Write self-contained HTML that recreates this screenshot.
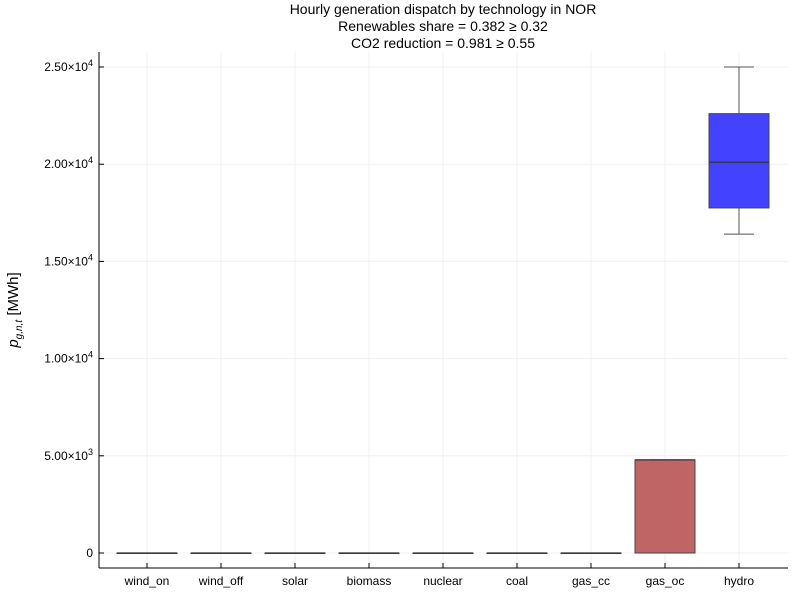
<!DOCTYPE html>
<html><head><meta charset="utf-8"><style>
body{margin:0;background:#fff;font-family:"Liberation Sans","DejaVu Sans",sans-serif;}
svg text{font-family:"Liberation Sans","DejaVu Sans",sans-serif;}
</style></head><body>
<svg id="chart" width="800" height="600" xmlns="http://www.w3.org/2000/svg">
<g id="title" font-size="14" text-anchor="middle" fill="#000">
<text x="443" y="14">Hourly generation dispatch by technology in NOR</text>
<text x="443" y="31">Renewables share = 0.382 ≥ 0.32</text>
<text x="443" y="48">CO2 reduction = 0.981 ≥ 0.55</text>
</g>
<g id="grid"></g>
<g id="boxes"></g>
<g id="axes"></g>
<text transform="translate(18,310) rotate(-90)" text-anchor="middle" font-size="15" font-family="Liberation Serif,serif" font-style="italic">p<tspan font-size="10" dy="4">g,n,t</tspan><tspan font-style="normal" dy="-4"> [MWh]</tspan></text>
</svg>
<script>
const categories=["wind_on","wind_off","solar","biomass","nuclear","coal","gas_cc","gas_oc","hydro"];
const lows=[0,0,0,0,0,0,0,0,16400];
const q1s=[0,0,0,0,0,0,0,0,17750];
const medians=[0,0,0,0,0,0,0,4790,20100];
const q3s=[0,0,0,0,0,0,0,4790,22600];
const highs=[0,0,0,0,0,0,0,4790,25000];
const colors=["#c06565","#c06565","#c06565","#c06565","#c06565","#c06565","#c06565","#c06565","#4343ff"];
const yTicks=[0,5000,10000,15000,20000,25000];
const yTickLabels=["0","5.00×10^3","1.00×10^4","1.50×10^4","2.00×10^4","2.50×10^4"];
const NS="http://www.w3.org/2000/svg";
const L=99,R=788,T=52,B=568;
const x=i=>147+i*74;
const y=v=>553-(v/25000)*486;
function mk(p,tag,a){const e=document.createElementNS(NS,tag);for(const k in a)e.setAttribute(k,a[k]);p.appendChild(e);return e;}
const grid=document.getElementById('grid'),axes=document.getElementById('axes'),boxes=document.getElementById('boxes');
yTicks.forEach((v,i)=>{
  const g=mk(grid,'line',{x1:L,x2:R,y1:y(v),y2:y(v),stroke:'#f0f0f0','stroke-width':1});
  
  
  mk(axes,'line',{x1:L,x2:L+5,y1:y(v),y2:y(v),stroke:'#000'});
  const t=mk(axes,'text',{x:L-6,y:y(v)+4,'text-anchor':'end','font-size':12});
  
  
  const parts=yTickLabels[i].split('^');
  t.textContent=parts[0];
  if(parts[1]){const s=mk(t,'tspan',{dy:-5,'font-size':9});s.textContent=parts[1];}
});
categories.forEach((c,i)=>{
  const g=mk(grid,'line',{x1:x(i),x2:x(i),y1:T,y2:B,stroke:'#f0f0f0','stroke-width':1});
  
  
  mk(axes,'line',{x1:x(i),x2:x(i),y1:B,y2:B-5,stroke:'#000'});
  const t=mk(axes,'text',{x:x(i),y:B+17,'text-anchor':'middle','font-size':12});
  
  
  t.textContent=c;
  const g2=mk(boxes,'g',{});
  
  
  const hw=30,cx=x(i);
  mk(g2,'line',{x1:cx,x2:cx,y1:y(highs[i]),y2:y(q3s[i]),stroke:'#555'});
  mk(g2,'line',{x1:cx,x2:cx,y1:y(lows[i]),y2:y(q1s[i]),stroke:'#555'});
  mk(g2,'line',{x1:cx-hw/2,x2:cx+hw/2,y1:y(highs[i]),y2:y(highs[i]),stroke:'#555'});
  mk(g2,'line',{x1:cx-hw/2,x2:cx+hw/2,y1:y(lows[i]),y2:y(lows[i]),stroke:'#555'});
  mk(g2,'rect',{x:cx-hw,y:y(q3s[i]),width:2*hw,height:Math.max(y(q1s[i])-y(q3s[i]),0.5),fill:colors[i],stroke:'#444','stroke-width':1});
  mk(g2,'line',{x1:cx-hw,x2:cx+hw,y1:y(medians[i]),y2:y(medians[i]),stroke:'#333','stroke-width':1.2});
});
mk(axes,'line',{x1:L,x2:L,y1:T,y2:B,stroke:'#000'});
mk(axes,'line',{x1:L,x2:R,y1:B,y2:B,stroke:'#000'});
</script>
</body></html>
